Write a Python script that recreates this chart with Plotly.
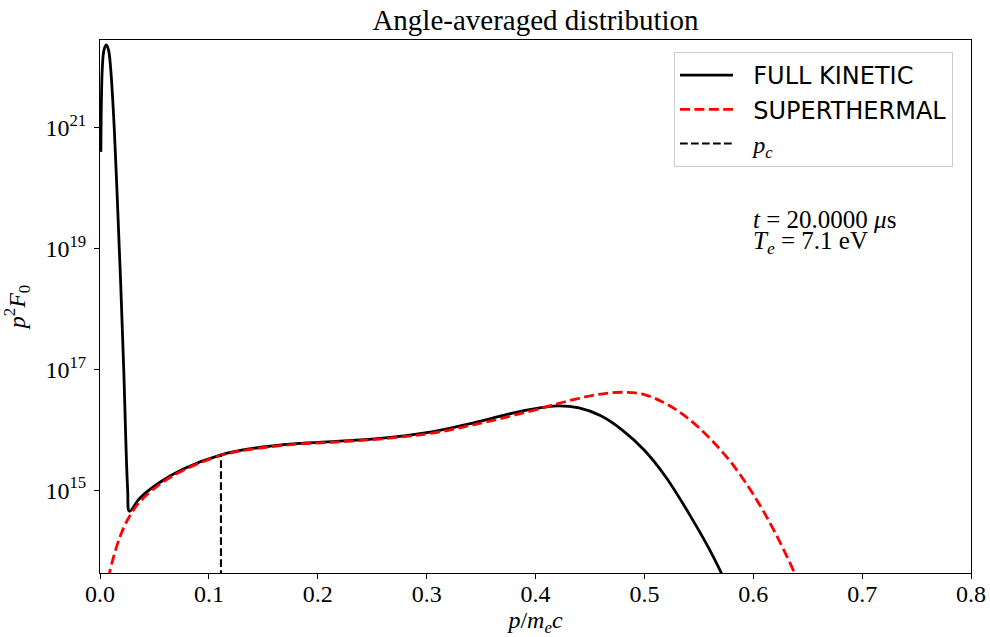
import plotly.graph_objects as go

# ---- data (y given as log10 values) ----
full_p = [0.0008, 0.0021, 0.0037, 0.0058, 0.0078, 0.0098, 0.0131, 0.0177, 0.0190,
          0.0218, 0.0254, 0.0271, 0.0367, 0.0551, 0.0765, 0.1111, 0.14, 0.18,
          0.22, 0.26, 0.30, 0.32, 0.34, 0.36, 0.38, 0.40, 0.42, 0.44, 0.46,
          0.48, 0.50, 0.52, 0.54, 0.56, 0.58]
full_log10 = [20.60, 21.98, 22.29, 22.37, 22.29, 21.98, 20.99, 19.00, 18.42,
              17.00, 15.01, 14.65, 14.87, 15.13, 15.35, 15.585, 15.69, 15.77,
              15.81, 15.86, 15.95, 16.02, 16.10, 16.19, 16.28, 16.35, 16.395, 16.36, 16.23,
              15.99, 15.66, 15.21, 14.64, 14.01, 13.28]

super_p = [0.006, 0.0086, 0.0184, 0.0269, 0.0367, 0.0551, 0.0765, 0.1111, 0.14,
           0.18, 0.22, 0.26, 0.30, 0.32, 0.34, 0.36, 0.38, 0.40, 0.42, 0.44, 0.46,
           0.48, 0.50, 0.52, 0.54, 0.56, 0.58, 0.60, 0.62, 0.64, 0.65]
super_log10 = [13.30, 13.62, 14.23, 14.56, 14.81, 15.10, 15.33, 15.575, 15.68,
               15.76, 15.80, 15.85, 15.93, 15.99, 16.07, 16.15, 16.24, 16.33, 16.43, 16.52, 16.59,
               16.62, 16.58, 16.43, 16.19, 15.86, 15.45, 14.93, 14.30, 13.55, 13.15]

pc_value = 0.1111
pc_top_log10 = 15.585
pc_bottom_log10 = 13.0

ytick_exps = [15, 17, 19, 21]
xtick_vals = [0.0, 0.1, 0.2, 0.3, 0.4, 0.5, 0.6, 0.7, 0.8]

SERIF = "Liberation Serif"
SANS = "DejaVu Sans"
NB = "&nbsp;"

fig = go.Figure()
fig.add_trace(go.Scatter(
    x=full_p, y=[10.0 ** v for v in full_log10], mode="lines",
    name=NB * 2 + "FULL KINETIC", legendgroup="a",
    line=dict(color="black", width=2.8, shape="spline", smoothing=1.0)))
fig.add_trace(go.Scatter(
    x=super_p, y=[10.0 ** v for v in super_log10], mode="lines",
    name=NB * 2 + "SUPERTHERMAL", legendgroup="b",
    line=dict(color="red", width=2.8, dash="10px,4.4px", shape="spline", smoothing=1.0)))
fig.add_trace(go.Scatter(
    x=[pc_value, pc_value], y=[10.0 ** pc_bottom_log10, 10.0 ** pc_top_log10], mode="lines",
    name=NB * 2 + '<span style="font-family:Liberation Serif"><i>p</i><sub><i>c</i></sub></span>',
    legendgroup="c",
    line=dict(color="black", width=2.1, dash="7.7px,3.3px")))

fig.update_layout(
    width=990, height=637,
    margin=dict(l=100, r=19, t=40, b=64, autoexpand=False),
    paper_bgcolor="white", plot_bgcolor="white",
    font=dict(family=SERIF, size=24, color="black"),
    title=dict(text="Angle-averaged distribution", font=dict(family=SERIF, size=29, color="black"),
               x=0.5, xref="paper", xanchor="center", y=1 - 20 / 637, yref="container",
               yanchor="middle"),
    showlegend=True,
    legend=dict(x=(674 - 100) / 871, y=(573 - 52) / 533, xanchor="left", yanchor="top",
                bgcolor="white", bordercolor="#cccccc", borderwidth=1,
                font=dict(family=SANS, size=24, color="black"),
                traceorder="grouped", tracegroupgap=0, itemwidth=53),
    xaxis=dict(range=[0, 0.8], tickvals=xtick_vals, tickformat=".1f", automargin=False,
               showline=True, mirror=True, linecolor="black", linewidth=1,
               ticks="outside", ticklen=5, tickwidth=1, tickcolor="black",
               ticklabelstandoff=-6,
               showgrid=False, zeroline=False,
               tickfont=dict(family=SERIF, size=24, color="black"),
               title=dict(text="<i>p</i>/<i>m</i><sub><i>e</i></sub><i>c</i>",
                          font=dict(family=SERIF, size=24, color="black"), standoff=8)),
    yaxis=dict(type="log", range=[13.628, 22.452], automargin=False,
               tickvals=[10.0 ** e for e in ytick_exps],
               ticktext=["10<sup>%d</sup>" % e for e in ytick_exps],
               showline=True, mirror=True, linecolor="black", linewidth=1,
               ticks="outside", ticklen=5, tickwidth=1, tickcolor="black",
               ticklabelstandoff=3,
               showgrid=False, zeroline=False,
               tickfont=dict(family=SERIF, size=24, color="black"),
               title=dict(text="<i>p</i><sup>2</sup><i>F</i><sub>0</sub>",
                          font=dict(family=SERIF, size=24, color="black"), standoff=20)),
)

fig.add_annotation(text="<i>t</i> = 20.0000 <i>μ</i>s", xref="paper", yref="paper",
                   x=(751 - 100) / 871, y=(573 - 219) / 533, xanchor="left", yanchor="middle",
                   showarrow=False, font=dict(family=SERIF, size=25, color="black"))
fig.add_annotation(text="<i>T</i><sub><i>e</i></sub> = 7.1 eV", xref="paper", yref="paper",
                   x=(751 - 100) / 871, y=(573 - 243) / 533, xanchor="left", yanchor="middle",
                   showarrow=False, font=dict(family=SERIF, size=25, color="black"))

fig.write_html("out.html")
